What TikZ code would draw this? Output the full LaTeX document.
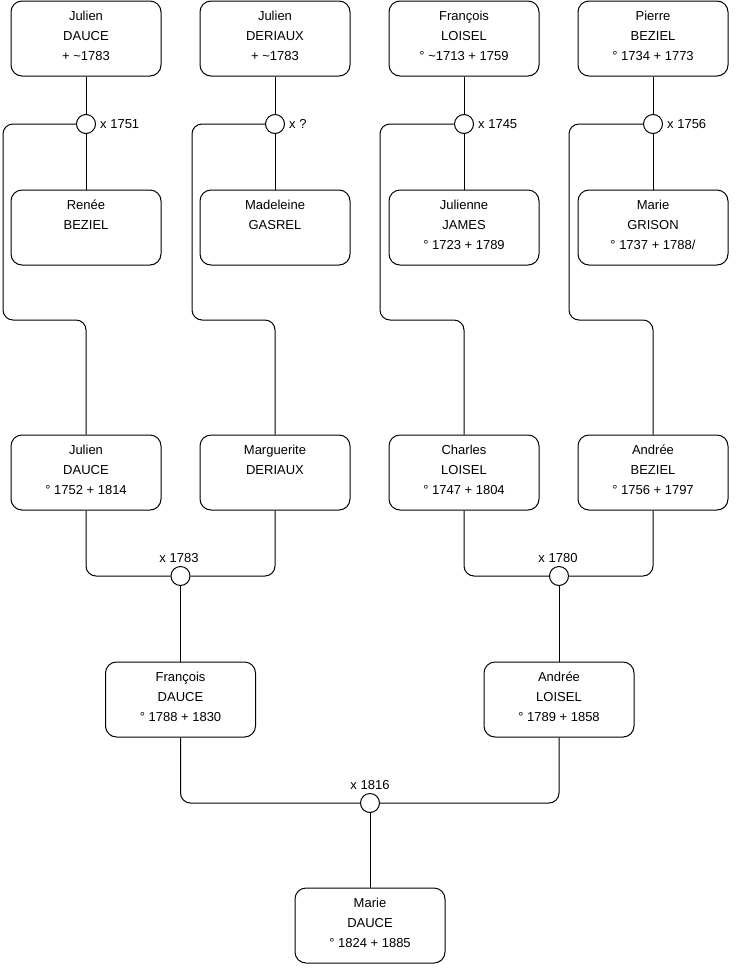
\documentclass[tikz,border=0pt]{standalone}
\usepackage{fontspec}
\setmainfont{Liberation Sans}
\begin{document}
\begin{tikzpicture}[x=1pt,y=-1pt,
  pbox/.style={draw,line width=1pt,rounded corners=11pt,minimum width=150pt,minimum height=75pt,inner sep=0pt},
  ptxt/.style={anchor=north,align=center,inner sep=0pt,font=\fontsize{13}{20}\selectfont},
  mcirc/.style={draw,circle,line width=1pt,fill=white,minimum size=19pt,inner sep=0pt},
  mlab/.style={inner sep=0pt,font=\fontsize{13}{15}\selectfont},
  link/.style={line width=1pt,rounded corners=10pt}]
\useasboundingbox (0,0) rectangle (740,975);
\newcommand\person[5]{%
  \node[pbox] (#1) at (#2,#3) {};
  \node[ptxt] (#1t) at ([yshift=-10.2pt]#1.north) {\rule{0pt}{10pt}#4\\#5};}
% top row
\person{a1}{86}{38.5}{Julien}{DAUCE\\+ \textasciitilde1783}
\person{a2}{275}{38.5}{Julien}{DERIAUX\\+ \textasciitilde1783}
\person{a3}{464}{38.5}{François}{LOISEL\\° \textasciitilde1713 + 1759}
\person{a4}{653}{38.5}{Pierre}{BEZIEL\\° 1734 + 1773}
% wives
\person{w1}{86}{227.5}{Renée}{BEZIEL}
\person{w2}{275}{227.5}{Madeleine}{GASREL}
\person{w3}{464}{227.5}{Julienne}{JAMES\\° 1723 + 1789}
\person{w4}{653}{227.5}{Marie}{GRISON\\° 1737 + 1788/}
% row 3
\person{b1}{86}{472.5}{Julien}{DAUCE\\° 1752 + 1814}
\person{b2}{275}{472.5}{Marguerite}{DERIAUX}
\person{b3}{464}{472.5}{Charles}{LOISEL\\° 1747 + 1804}
\person{b4}{653}{472.5}{Andrée}{BEZIEL\\° 1756 + 1797}
% row 4
\person{c1}{180.5}{699.5}{François}{DAUCE\\° 1788 + 1830}
\person{c2}{559}{699.5}{Andrée}{LOISEL\\° 1789 + 1858}
% bottom
\person{d1}{370}{925.5}{Marie}{DAUCE\\° 1824 + 1885}
% marriage circles
\node[mcirc] (m1) at (86,124) {};
\node[mcirc] (m2) at (275,124) {};
\node[mcirc] (m3) at (464,124) {};
\node[mcirc] (m4) at (653,124) {};
\node[mcirc] (n1) at (180.5,576) {};
\node[mcirc] (n2) at (559,576) {};
\node[mcirc] (p1) at (370,803) {};
% labels
\node[mlab,anchor=west] (lm1) at (100,124) {x 1751};
\node[mlab,anchor=west] (lm2) at (289,124) {x ?};
\node[mlab,anchor=west] (lm3) at (478,124) {x 1745};
\node[mlab,anchor=west] (lm4) at (667,124) {x 1756};
\node[mlab] (ln1) at (179,558) {x 1783};
\node[mlab] (ln2) at (558,558) {x 1780};
\node[mlab] (lp1) at (370,785) {x 1816};
% top families
\foreach \i/\lx in {1/3,2/192,3/380,4/569}{
  \draw[link] (a\i.south) -- (m\i.north);
  \draw[link] (m\i.south) -- (w\i.north);
  \draw[link] (m\i.west) -| (\lx,320) -| (b\i.north);
}
% middle families
\draw[link] (b1.south) |- (n1.west);
\draw[link] (b2.south) |- (n1.east);
\draw[link] (n1.south) -- (c1.north);
\draw[link] (b3.south) |- (n2.west);
\draw[link] (b4.south) |- (n2.east);
\draw[link] (n2.south) -- (c2.north);
% bottom family
\draw[link] (c1.south) |- (p1.west);
\draw[link] (c2.south) |- (p1.east);
\draw[link] (p1.south) -- (d1.north);
\end{tikzpicture}
\end{document}
